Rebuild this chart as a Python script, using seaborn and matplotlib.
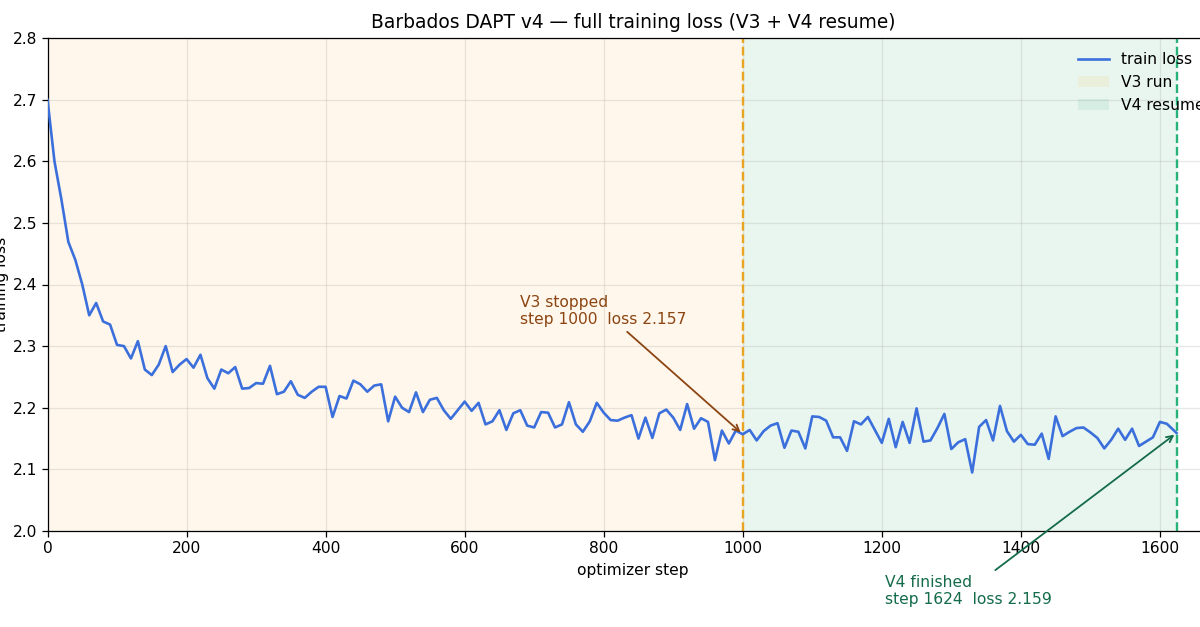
import matplotlib
matplotlib.use("Agg")
import matplotlib.pyplot as plt
import seaborn as sns
import numpy as np
import pandas as pd

steps = list(range(0, 1620, 10)) + [1624]
loss = [
    2.700, 2.600, 2.538, 2.469, 2.440, 2.400, 2.350, 2.370, 2.340, 2.335,
    2.302, 2.300, 2.280, 2.308, 2.262, 2.253, 2.270, 2.300, 2.258, 2.270,
    2.279, 2.265, 2.286, 2.248, 2.231, 2.262, 2.256, 2.266, 2.231, 2.232,
    2.240, 2.239, 2.268, 2.222, 2.226, 2.243, 2.221, 2.216, 2.226, 2.234,
    2.234, 2.185, 2.219, 2.215, 2.244, 2.238, 2.226, 2.236, 2.238, 2.178,
    2.218, 2.200, 2.193, 2.225, 2.193, 2.213, 2.216, 2.196, 2.182, 2.196,
    2.210, 2.195, 2.208, 2.173, 2.178, 2.196, 2.164, 2.191, 2.196, 2.171,
    2.168, 2.193, 2.192, 2.168, 2.173, 2.209, 2.173, 2.161, 2.178, 2.208,
    2.192, 2.180, 2.179, 2.184, 2.188, 2.150, 2.184, 2.151, 2.191, 2.197,
    2.184, 2.164, 2.206, 2.166, 2.183, 2.177, 2.115, 2.163, 2.142, 2.163,
    2.157, 2.164, 2.147, 2.162, 2.171, 2.175, 2.135, 2.163, 2.161, 2.134,
    2.186, 2.185, 2.179, 2.152, 2.152, 2.130, 2.178, 2.173, 2.185, 2.164,
    2.143, 2.182, 2.136, 2.177, 2.143, 2.199, 2.145, 2.147, 2.167, 2.190,
    2.133, 2.144, 2.149, 2.095, 2.169, 2.180, 2.147, 2.203, 2.162, 2.145,
    2.156, 2.141, 2.140, 2.158, 2.117, 2.186, 2.154, 2.161, 2.167, 2.168,
    2.160, 2.151, 2.134, 2.148, 2.166, 2.148, 2.166, 2.138, 2.145, 2.152,
    2.177, 2.174, 2.159,
]
v3_end = 1000
v4_end = 1624
v3_loss = 2.157
v4_loss = 2.159
xticks = [0, 200, 400, 600, 800, 1000, 1200, 1400, 1600]
yticks = [2.0, 2.1, 2.2, 2.3, 2.4, 2.5, 2.6, 2.7, 2.8]

df = pd.DataFrame({"step": steps, "loss": loss})

FS = 11.2
fig = plt.figure(figsize=(12, 6.27), dpi=100)
ax = fig.add_axes([47.5 / 1200, 96 / 627, (1219 - 47.5) / 1200, 493 / 627])

ax.axvspan(0, v3_end, color="orange", alpha=0.08, lw=0, label="V3 run", zorder=0)
ax.axvspan(v3_end, v4_end, color="mediumseagreen", alpha=0.11, lw=0, label="V4 resume", zorder=0)
sns.lineplot(data=df, x="step", y="loss", ax=ax, color="#3b6fdc", lw=1.9,
             label="train loss", zorder=3)
ax.axvline(v3_end, color="#e9a424", ls="--", lw=1.7, zorder=2)
ax.axvline(v4_end, color="#27b27a", ls="--", lw=1.7, zorder=2)

ax.set_xlim(0, 1685)
ax.set_ylim(2.0, 2.8)
ax.set_xticks(xticks)
ax.set_yticks(yticks)
ax.tick_params(labelsize=FS, length=4, width=0.9)
ax.grid(True, color="#b0b0b0", alpha=0.3, lw=0.9)
ax.set_axisbelow(True)
for s in ax.spines.values():
    s.set_linewidth(0.9)

ax.set_title("Barbados DAPT v4 — full training loss (V3 + V4 resume)", fontsize=13.4, pad=7)
ax.set_xlabel("optimizer step", fontsize=FS, labelpad=4.5)
ax.set_ylabel("training loss", fontsize=FS, labelpad=2.5)

ax.annotate(f"V3 stopped\nstep {v3_end}  loss {v3_loss:.3f}",
            xy=(v3_end, v3_loss), xytext=(800, 2.357),
            ha="center", va="center", multialignment="left",
            color="#8b4513", fontsize=FS,
            arrowprops=dict(arrowstyle="->", color="#8b4513", lw=1.3))
ax.annotate(f"V4 finished\nstep {v4_end}  loss {v4_loss:.3f}",
            xy=(v4_end, v4_loss), xytext=(1324, 1.903),
            ha="center", va="center", multialignment="left",
            color="#136b4a", fontsize=FS, annotation_clip=False,
            arrowprops=dict(arrowstyle="->", color="#136b4a", lw=1.3))

handles, labels = ax.get_legend_handles_labels()
order = [labels.index(l) for l in ["train loss", "V3 run", "V4 resume"]]
ax.legend([handles[i] for i in order], [labels[i] for i in order],
          loc="upper right", frameon=False, fontsize=FS)

fig.savefig("out.png", dpi=100)
